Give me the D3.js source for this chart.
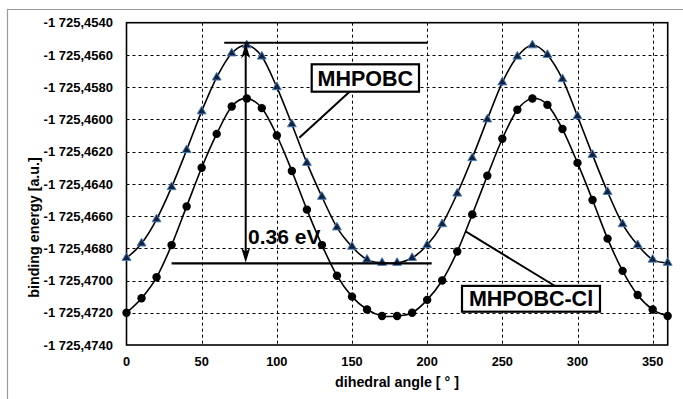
<!DOCTYPE html>
<html>
<head>
<meta charset="utf-8">
<script src="https://cdn.jsdelivr.net/npm/d3@7"></script>
<style>
  body { margin: 0; background: #fff; }
  text { font-family: "Liberation Sans", Arial, sans-serif; font-weight: bold; }
</style>
</head>
<body>
<div id="chart"></div>
<script>
const width = 683, height = 399

// dihedral angle, every 10 degrees
const angles = d3.range(0, 361, 10)

const mhpobc = [
  -1725.4686, -1725.4677, -1725.4662, -1725.4642, -1725.4619, -1725.4595, -1725.4574, -1725.4559,
  -1725.4554, -1725.4561, -1725.4580, -1725.4603, -1725.4627, -1725.4648, -1725.4667, -1725.4679,
  -1725.4687, -1725.4689, -1725.4689, -1725.4686, -1725.4678, -1725.4665, -1725.4646, -1725.4624,
  -1725.4600, -1725.4577, -1725.4561, -1725.4554, -1725.4560, -1725.4575, -1725.4598, -1725.4622,
  -1725.4645, -1725.4665, -1725.4678, -1725.4687, -1725.4689
]

const mhpobcCl = [
  -1725.4720, -1725.4711, -1725.4698, -1725.4678, -1725.4654, -1725.4630, -1725.4609, -1725.4592,
  -1725.4587, -1725.4593, -1725.4610, -1725.4632, -1725.4656, -1725.4678, -1725.4697, -1725.4710,
  -1725.4718, -1725.4722, -1725.4722, -1725.4720, -1725.4712, -1725.4700, -1725.4682, -1725.4659,
  -1725.4635, -1725.4612, -1725.4594, -1725.4587, -1725.4591, -1725.4606, -1725.4627, -1725.4650,
  -1725.4674, -1725.4694, -1725.4709, -1725.4718, -1725.4722
]

const xTicks = [0, 50, 100, 150, 200, 250, 300, 350]
const yTicks = d3.range(0, 11).map(i => -1725.474 + i * 0.002)

const svg = d3.select('#chart').append('svg')
  .attr('width', width)
  .attr('height', height)

// outer chart-area frame
svg.append('path')
  .attr('d', `M7.5,${height} V9.5 H${width}`)
  .attr('fill', 'none')
  .attr('stroke', '#999')
  .attr('stroke-width', 1.2)

const x = d3.scaleLinear().domain([0, 360]).range([126.5, 667.7])
const y = d3.scaleLinear().domain([-1725.474, -1725.454]).range([345, 22.7])

const fmt = v => {
  let s = d3.format('.4f')(Math.abs(v)).replace('.', ',')
  return '-' + s.replace(/^(\d)(\d{3})/, '$1 $2')
}

// grid
const grid = svg.append('g')
  .attr('stroke', '#000')
  .attr('stroke-width', 1)
  .attr('stroke-dasharray', '3,3')

grid.selectAll('.gy')
  .data(yTicks.slice(1, -1))
  .enter()
  .append('line')
  .attr('x1', x(0)).attr('x2', x(360))
  .attr('y1', d => Math.round(y(d)) + 0.5)
  .attr('y2', d => Math.round(y(d)) + 0.5)

grid.selectAll('.gx')
  .data(xTicks.slice(1))
  .enter()
  .append('line')
  .attr('x1', d => Math.round(x(d)) + 0.5)
  .attr('x2', d => Math.round(x(d)) + 0.5)
  .attr('y1', y.range()[1]).attr('y2', y.range()[0])

// plot frame
svg.append('rect')
  .attr('x', x(0)).attr('y', y.range()[1])
  .attr('width', x(360) - x(0))
  .attr('height', y.range()[0] - y.range()[1])
  .attr('fill', 'none')
  .attr('stroke', '#000')
  .attr('stroke-width', 1.6)

// axes labels
svg.append('g')
  .selectAll('text')
  .data(yTicks)
  .enter()
  .append('text')
  .attr('x', 113)
  .attr('y', d => y(d) + 4.7)
  .attr('text-anchor', 'end')
  .attr('font-size', 13)
  .text(fmt)

svg.append('g')
  .selectAll('text')
  .data(xTicks)
  .enter()
  .append('text')
  .attr('x', d => x(d))
  .attr('y', 366)
  .attr('text-anchor', 'middle')
  .attr('font-size', 12.8)
  .text(d => d)

svg.append('text')
  .attr('x', 397)
  .attr('y', 387)
  .attr('text-anchor', 'middle')
  .attr('font-size', 14.3)
  .text('dihedral angle [ ° ]')

svg.append('text')
  .attr('transform', `translate(39,227.5) rotate(-90)`)
  .attr('text-anchor', 'middle')
  .attr('font-size', 14.3)
  .text('binding energy [a.u.]')

// curves
const line = d3.line()
  .x((d, i) => x(angles[i]))
  .y(d => y(d))
  .curve(d3.curveCardinal)

;[mhpobc, mhpobcCl].forEach(series => {
  svg.append('path')
    .datum(series)
    .attr('d', line)
    .attr('fill', 'none')
    .attr('stroke', '#000')
    .attr('stroke-width', 1.6)
})

// markers
const tri = d3.symbol().type(d3.symbolTriangle).size(34)

svg.append('g')
  .selectAll('path')
  .data(mhpobc)
  .enter()
  .append('path')
  .attr('d', tri)
  .attr('transform', (d, i) => `translate(${x(angles[i])},${y(d)})`)
  .attr('fill', '#14213d')
  .attr('stroke', '#4a7ebb')
  .attr('stroke-width', 1)

svg.append('g')
  .selectAll('circle')
  .data(mhpobcCl)
  .enter()
  .append('circle')
  .attr('cx', (d, i) => x(angles[i]))
  .attr('cy', d => y(d))
  .attr('r', 4.2)
  .attr('fill', '#000')

// energy gap annotation
const topE = d3.max(mhpobc), botE = -1725.4689

svg.append('line')
  .attr('x1', x(65)).attr('x2', x(200))
  .attr('y1', y(topE) - 2.5).attr('y2', y(topE) - 2.5)
  .attr('stroke', '#000').attr('stroke-width', 2.2)

svg.append('line')
  .attr('x1', x(30)).attr('x2', x(203))
  .attr('y1', y(botE) + 0.5).attr('y2', y(botE) + 0.5)
  .attr('stroke', '#000').attr('stroke-width', 2.2)

const ax = 245.7, ay1 = y(topE) - 2, ay2 = y(botE)
svg.append('line')
  .attr('x1', ax).attr('x2', ax)
  .attr('y1', ay1 + 8).attr('y2', ay2 - 8)
  .attr('stroke', '#000').attr('stroke-width', 2)

svg.append('path')
  .attr('d', `M${ax},${ay1} L${ax - 4.5},${ay1 + 15} L${ax},${ay1 + 11} L${ax + 4.5},${ay1 + 15} Z`)
  .attr('fill', '#000')
svg.append('path')
  .attr('d', `M${ax},${ay2} L${ax - 4.5},${ay2 - 15} L${ax},${ay2 - 11} L${ax + 4.5},${ay2 - 15} Z`)
  .attr('fill', '#000')

svg.append('text')
  .attr('x', 248)
  .attr('y', 244)
  .attr('font-size', 21)
  .text('0.36 eV')

// series labels with leaders
const labels = [
  {text: 'MHPOBC', box: [311.7, 64.3, 107.3, 27.4], from: [349.3, 92], to: [299.3, 137.7]},
  {text: 'MHPOBC-Cl', box: [462, 285.9, 138, 25.8], from: [556.7, 287], to: [466, 231.7]}
]

labels.forEach(l => {
  svg.append('line')
    .attr('x1', l.from[0]).attr('y1', l.from[1])
    .attr('x2', l.to[0]).attr('y2', l.to[1])
    .attr('stroke', '#000').attr('stroke-width', 2)
  svg.append('rect')
    .attr('x', l.box[0]).attr('y', l.box[1])
    .attr('width', l.box[2]).attr('height', l.box[3])
    .attr('fill', '#fff')
    .attr('stroke', '#000')
    .attr('stroke-width', 2.2)
  svg.append('text')
    .attr('x', l.box[0] + l.box[2] / 2)
    .attr('y', l.box[1] + l.box[3] / 2 + 7.5)
    .attr('text-anchor', 'middle')
    .attr('font-size', 21.5)
    .text(l.text)
})
</script>
</body>
</html>
